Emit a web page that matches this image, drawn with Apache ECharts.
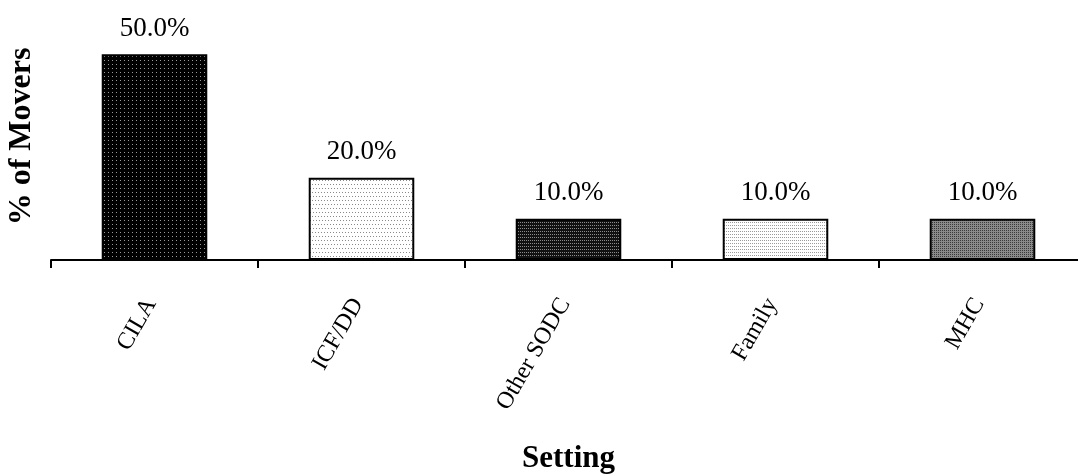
<!DOCTYPE html>
<html>
<head>
<meta charset="utf-8">
<script src="https://cdn.jsdelivr.net/npm/echarts@6/dist/echarts.min.js"></script>
<style>
  html, body { margin: 0; padding: 0; background: #fff; }
  #chart { width: 1078px; height: 474px; }
</style>
</head>
<body>
<div id="chart"></div>
<script>
// Share of movers by destination setting
const categories = ['CILA', 'ICF/DD', 'Other SODC', 'Family', 'MHC'];
const moverShare = [50.0, 20.0, 10.0, 10.0, 10.0];
const axisTitleX = 'Setting';
const axisTitleY = '% of Movers';

// Stippled fills: background colour, dot colour and dot spacing
function stipple(bg, dot, dx, dy, stagger) {
  const c = document.createElement('canvas');
  c.width = dx * (stagger ? 2 : 1);
  c.height = dy * (stagger ? 2 : 1);
  const g = c.getContext('2d');
  g.fillStyle = bg;
  g.fillRect(0, 0, c.width, c.height);
  g.fillStyle = dot;
  for (let y = 0; y < c.height; y += dy) {
    const off = stagger && (y / dy) % 2 ? Math.floor(dx / 2) : 0;
    for (let x = off; x < c.width; x += dx) g.fillRect(x, y, 1, 1);
  }
  return { image: c, repeat: 'repeat' };
}

const fills = [
  stipple('#000000', '#9a9a9a', 4, 4, false),
  stipple('#ffffff', '#8a8a8a', 3, 4, true),
  stipple('#111111', '#8c8c8c', 2, 3, false),
  stipple('#ffffff', '#9a9a9a', 2, 3, false),
  stipple('#8a8a8a', '#3a3a3a', 2, 2, false)
];

const font = '"Liberation Serif", "Times New Roman", serif';
const chart = echarts.init(document.getElementById('chart'), null, { renderer: 'canvas' });

chart.setOption({
  animation: false,
  backgroundColor: '#ffffff',
  grid: {
    left: 51, right: -8, top: 13, bottom: 214,
    containLabel: false, outerBoundsMode: 'none'
  },
  xAxis: {
    type: 'category',
    data: categories,
    axisLine: { lineStyle: { color: '#000', width: 2 } },
    axisTick: { show: true, alignWithLabel: false, length: 8, lineStyle: { color: '#000', width: 2 } },
    axisLabel: {
      rotate: 60, margin: 34, interval: 0,
      padding: [0, 7, 10, 0],
      fontFamily: font, fontSize: 24, color: '#000'
    },
    name: axisTitleX,
    nameLocation: 'middle',
    nameGap: 183,
    nameTextStyle: { fontFamily: font, fontSize: 31, fontWeight: 'bold', color: '#000' }
  },
  yAxis: {
    type: 'value',
    min: 0, max: 60,
    axisLine: { show: false },
    axisTick: { show: false },
    axisLabel: { show: false },
    splitLine: { show: false },
    name: axisTitleY,
    nameLocation: 'middle',
    nameGap: 13,
    nameRotate: 90,
    nameTextStyle: { fontFamily: font, fontSize: 32, fontWeight: 'bold', color: '#000' }
  },
  series: [{
    type: 'bar',
    barWidth: '51%',
    data: moverShare.map((v, i) => ({
      value: v,
      itemStyle: { color: fills[i], borderColor: '#000', borderWidth: 2 }
    })),
    label: {
      show: true,
      position: 'top',
      distance: 12,
      formatter: p => p.value.toFixed(1) + '%',
      fontFamily: font, fontSize: 27, color: '#000'
    }
  }]
});
</script>
</body>
</html>
